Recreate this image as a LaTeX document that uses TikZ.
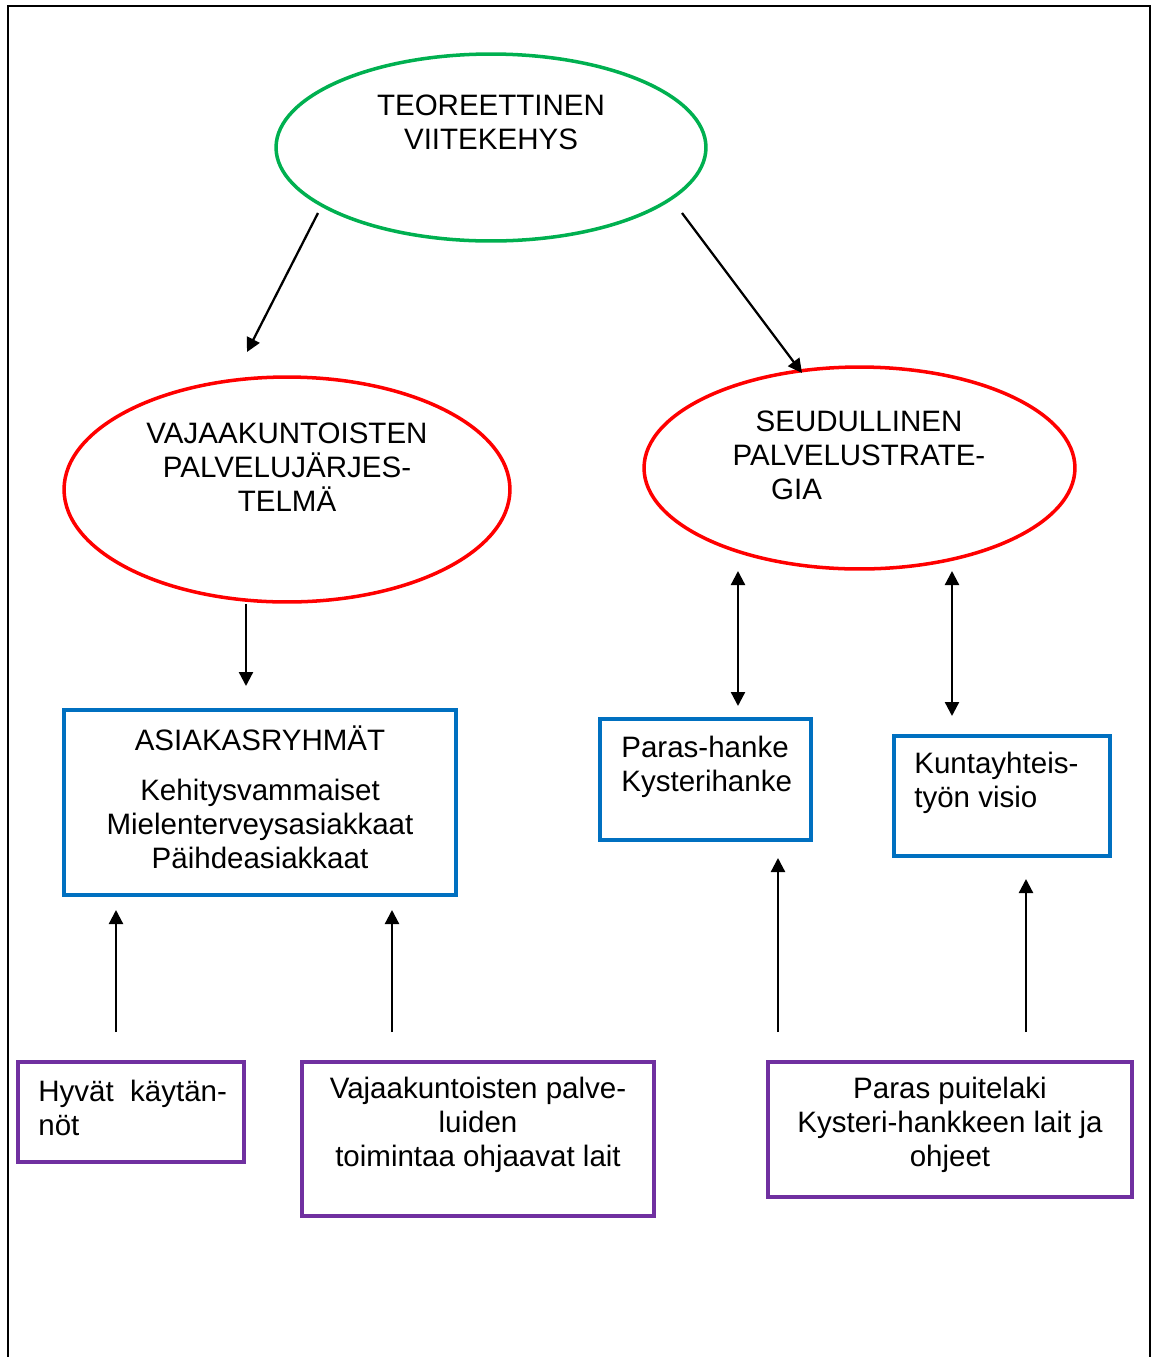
\documentclass[tikz,border=0pt]{standalone}
\usepackage{fontspec}
\setmainfont{Liberation Sans}
\usetikzlibrary{arrows.meta,shapes.geometric}
\definecolor{kaaviovihrea}{RGB}{0,176,80}
\definecolor{kaaviopunainen}{RGB}{255,0,0}
\definecolor{kaaviosininen}{RGB}{0,112,192}
\definecolor{kaaviovioletti}{RGB}{112,48,160}

\begin{document}
\begin{tikzpicture}[x=0.02cm,y=-0.02cm,>={Triangle[length=0.28cm,width=0.28cm]},
 soikio/.style={ellipse,draw,line width=2pt,inner sep=0pt},
 laatikko/.style={rectangle,draw,line width=2pt,inner sep=0pt},
 teksti/.style={inner sep=0pt,align=center,font=\fontsize{16.8}{19.4}\selectfont},
 nuoli/.style={->,line width=1.3pt}]
\useasboundingbox (0,0) rectangle (1151,1357);
\draw[line width=1.2pt] (8,1357) -- (8,6) -- (1150,6) -- (1150,1357);
% soikiot
\node[soikio,draw=kaaviovihrea,minimum width=8.6cm,minimum height=3.74cm] (teoria) at (491,147.5) {};
\node[teksti] (teoriat) at (491,122) {TEOREETTINEN\\VIITEKEHYS};
\node[soikio,draw=kaaviopunainen,minimum width=8.92cm,minimum height=4.5cm] (vajaa) at (287,489.5) {};
\node[teksti] (vajaat) at (287,467.5) {VAJAAKUNTOISTEN\\PALVELUJÄRJES-\\TELMÄ};
\node[soikio,draw=kaaviopunainen,minimum width=8.62cm,minimum height=4.04cm] (seutu) at (859.5,468) {};
\node[teksti] (seutut) at (859,455) {SEUDULLINEN\\PALVELUSTRATE-\\GIA\hspace*{2.5cm}};
% laatikot
\node[laatikko,draw=kaaviosininen,minimum width=7.84cm,minimum height=3.7cm] (asiakas) at (260,802.5) {};
\node[teksti] (asiakast) at (260,797) {ASIAKASRYHMÄT\\[0.32cm]Kehitysvammaiset\\Mielenterveysasiakkaat\\Päihdeasiakkaat};
\node[laatikko,draw=kaaviosininen,minimum width=4.22cm,minimum height=2.42cm] (paras) at (705.5,779.5) {};
\node[teksti,align=left,anchor=west] (parast) at (621,766.5) {Paras-hanke\\Kysterihanke};
\node[laatikko,draw=kaaviosininen,minimum width=4.32cm,minimum height=2.4cm] (kunta) at (1002,796) {};
\node[teksti,align=left,anchor=west] (kuntat) at (914,783) {Kuntayhteis-\\työn visio};
\node[laatikko,draw=kaaviovioletti,minimum width=4.52cm,minimum height=2cm] (hyvat) at (131,1112) {};
\node[teksti,align=left,anchor=west] (hyvatt) at (38,1107.5) {Hyvät\ \ käytän-\\nöt};
\node[laatikko,draw=kaaviovioletti,minimum width=7.04cm,minimum height=3.08cm] (lait) at (478,1139) {};
\node[teksti] (laitt) at (478,1125) {Vajaakuntoisten palve-\\luiden\\toimintaa ohjaavat lait};
\node[laatikko,draw=kaaviovioletti,minimum width=7.28cm,minimum height=2.7cm] (puite) at (950,1129.5) {};
\node[teksti] (puitet) at (950,1125) {Paras puitelaki\\Kysteri-hankkeen lait ja\\ohjeet};
% nuolten päät
\coordinate (t1) at (318,213); \coordinate (v1) at (247,352);
\coordinate (t2) at (682,213); \coordinate (s1) at (802,373);
\coordinate (v2) at (246,604); \coordinate (a1) at (246,686);
\coordinate (s2) at (738,571); \coordinate (p1) at (738,706);
\coordinate (s3) at (952,571); \coordinate (k1) at (952,716);
\coordinate (h1) at (116,1032); \coordinate (a2) at (116,910);
\coordinate (l1) at (392,1032); \coordinate (a3) at (392,910);
\coordinate (u1) at (778,1032); \coordinate (p2) at (778,858);
\coordinate (u2) at (1026,1032); \coordinate (k2) at (1026,879);
\draw[nuoli] (t1) -- (v1);
\draw[nuoli] (t2) -- (s1);
\draw[nuoli] (v2) -- (a1);
\draw[nuoli,<->] (s2) -- (p1);
\draw[nuoli,<->] (s3) -- (k1);
\draw[nuoli] (h1) -- (a2);
\draw[nuoli] (l1) -- (a3);
\draw[nuoli] (u1) -- (p2);
\draw[nuoli] (u2) -- (k2);
\end{tikzpicture}
\end{document}
